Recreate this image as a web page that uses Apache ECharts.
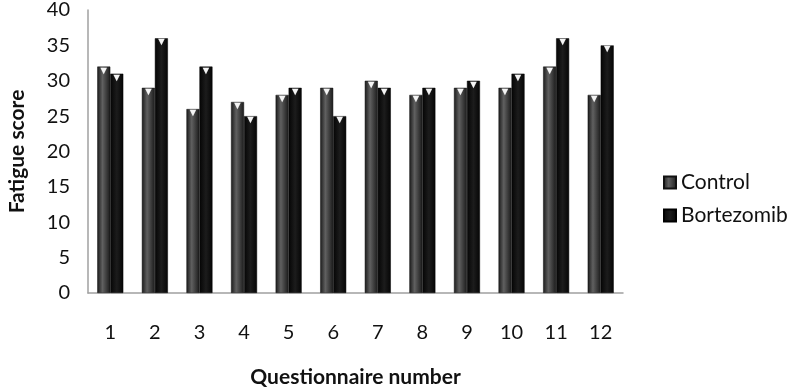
<!DOCTYPE html>
<html><head><meta charset="utf-8">
<script src="https://cdn.jsdelivr.net/npm/echarts@6/dist/echarts.min.js"></script>
<style>html,body{margin:0;padding:0;background:#fff}#c{width:793px;height:390px}</style>
</head><body><div id="c"></div>
<script>
const categories = ['1','2','3','4','5','6','7','8','9','10','11','12'];
const controlValues = [32, 29, 26, 27, 28, 29, 30, 28, 29, 29, 32, 28];
const bortezomibValues = [31, 36, 32, 25, 29, 25, 29, 29, 30, 31, 36, 35];
const yTicks = {min: 0, max: 40, interval: 5};

const FONT = 'Lato';
const ctrlColor = new echarts.graphic.LinearGradient(0,0,1,0,[
  {offset:0,color:'#1a1a1a'},{offset:0.4,color:'#606060'},{offset:1,color:'#1a1a1a'}]);
const bortColor = new echarts.graphic.LinearGradient(0,0,1,0,[
  {offset:0,color:'#050505'},{offset:0.5,color:'#1c1c1c'},{offset:1,color:'#050505'}]);
const tri = {show:true, position:'insideTop', formatter:'▼', color:'#f4f4f4', fontSize:11, distance:-2};

const chart = echarts.init(document.getElementById('c'));
chart.setOption({
  animation:false,
  textStyle:{fontFamily:FONT},
  grid:{left:88, right:170, top:10, bottom:97, containLabel:false, outerBoundsMode:'none'},
  legend:{
    orient:'vertical', left:658, top:167, itemWidth:12, itemHeight:12, itemGap:12,
    icon:'rect',
    textStyle:{fontFamily:FONT, fontSize:21, color:'#111'},
    data:['Control','Bortezomib']
  },
  xAxis:{
    type:'category', data:categories,
    axisLine:{lineStyle:{color:'#a0a0a0', width:1.5}},
    axisTick:{show:false},
    axisLabel:{fontFamily:FONT, fontSize:20, color:'#111', margin:30},
    name:'Questionnaire number', nameLocation:'middle', nameGap:74,
    nameTextStyle:{fontFamily:FONT, fontSize:21, fontWeight:'bold', color:'#111'}
  },
  yAxis:{
    type:'value', min:yTicks.min, max:yTicks.max, interval:yTicks.interval,
    axisLine:{show:true, lineStyle:{color:'#a0a0a0', width:1.5}},
    axisTick:{show:false},
    splitLine:{show:false},
    axisLabel:{fontFamily:FONT, fontSize:20, color:'#111', margin:18},
    name:'Fatigue score', nameLocation:'middle', nameGap:60, nameRotate:90,
    nameTextStyle:{fontFamily:FONT, fontSize:21, fontWeight:'bold', color:'#111'}
  },
  series:[
    {name:'Control', type:'bar', data:controlValues, barWidth:13, barGap:'0%',
     itemStyle:{color:ctrlColor, borderColor:'#111', borderWidth:0.5}, label:tri},
    {name:'Bortezomib', type:'bar', data:bortezomibValues, barWidth:13,
     itemStyle:{color:bortColor, borderColor:'#000', borderWidth:0.5}, label:tri}
  ]
});
</script></body></html>
